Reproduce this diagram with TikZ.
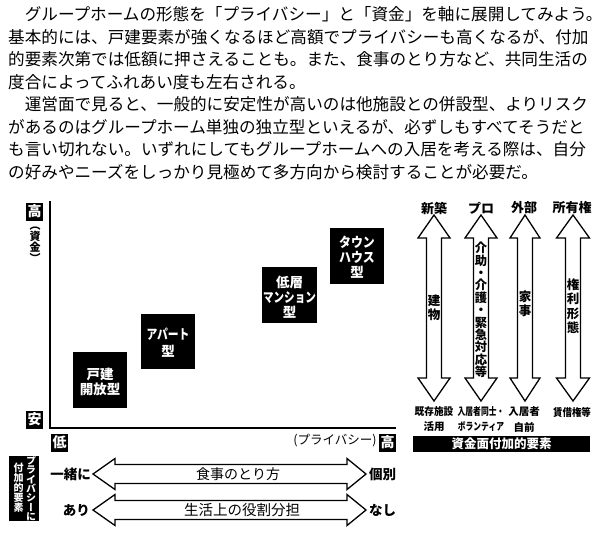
\documentclass[tikz,border=0pt]{standalone}
\usepackage{fontspec}
\usepackage{graphicx}
\setmainfont{Noto Sans CJK JP}
\newfontfamily\jpv[RawFeature=+vert]{Noto Sans CJK JP}
\newcommand\fsz[1]{\fontsize{#1pt}{#1pt}\selectfont}
\newcommand\fsb[2]{\fontsize{#1pt}{#2pt}\selectfont}
\newcommand\harrow[7]{%
 \draw[arr] (#1,#3) -- ({#1+#4},{#3-#7}) -- ({#1+#4},{#3-#6}) -- ({#2-#5},{#3-#6}) -- ({#2-#5},{#3-#7}) -- (#2,#3) -- ({#2-#5},{#3+#7}) -- ({#2-#5},{#3+#6}) -- ({#1+#4},{#3+#6}) -- ({#1+#4},{#3+#7}) -- cycle;}
\newcommand\varrow[6]{%
 \draw[arr] (#1,#2) -- ({#1+#6},{#2+#4}) -- ({#1+#5},{#2+#4}) -- ({#1+#5},{#3-#4}) -- ({#1+#6},{#3-#4}) -- (#1,#3) -- ({#1-#6},{#3-#4}) -- ({#1-#5},{#3-#4}) -- ({#1-#5},{#2+#4}) -- ({#1-#6},{#2+#4}) -- cycle;}
\begin{document}
\begin{tikzpicture}[x=1pt,y=-1pt,
  body/.style={anchor=base west,inner sep=0pt,font=\fsz{16.6}},
  blkbox/.style={fill=black,draw=none},
  wtxt/.style={text=white,font=\bfseries\fsb{13.5}{15},align=center,inner sep=0pt},
  axlab/.style={fill=black,text=white,font=\bfseries\fsz{14},inner sep=0pt,minimum width=17pt,minimum height=18pt},
  arr/.style={draw=black,line width=1.3pt,fill=white,line join=miter},
  hdr/.style={font=\bfseries\fsz{13},inner sep=0pt},
  vtxt/.style={font=\jpv\bfseries\fsb{12.5}{13.6},align=center,inner sep=0pt},
  small/.style={font=\bfseries\fsz{10.5},inner sep=0pt},
  side/.style={font=\bfseries\fsz{13.5},inner sep=0pt},
  mid/.style={font=\fsz{14.5},inner sep=0pt}]
\useasboundingbox (0,0) rectangle (604,533);
% ---------- body text ----------
\node[body] (t1) at (8,20.8) {　グループホームの形態を「プライバシー」と「資金」を軸に展開してみよう。};
\node[body] (t2) at (8,43.3) {基本的には、戸建要素が強くなるほど高額でプライバシーも高くなるが、付加};
\node[body] (t3) at (8,65.8) {的要素次第では低額に押さえることも。また、食事のとり方など、共同生活の};
\node[body] (t4) at (8,88.3) {度合によってふれあい度も左右される。};
\node[body] (t5) at (8,110.8) {　運営面で見ると、一般的に安定性が高いのは他施設との併設型、よりリスク};
\node[body] (t6) at (8,133.3) {があるのはグループホーム単独の独立型といえるが、必ずしもすべてそうだと};
\node[body] (t7) at (8,155.8) {も言い切れない。いずれにしてもグループホームへの入居を考える際は、自分};
\node[body] (t8) at (8,178.3) {の好みやニーズをしっかり見極めて多方向から検討することが必要だ。};
% ---------- chart axes ----------
\coordinate (yt) at (50,201);
\coordinate (org) at (50,428);
\coordinate (xr) at (396,428);
\draw[line width=2.2pt] (yt) -- (org) -- (xr);
\node[axlab] (yhigh) at (34.5,211.5) {高};
\node[vtxt,font=\jpv\bfseries\fsb{11}{10.5}] (ylab) at (35,244.5) {（\\資\\金\\）};
\node[axlab] (ylow) at (34.5,419.5) {安};
\node[axlab] (xlow) at (59.5,442.5) {低};
\node[axlab] (xhigh) at (387.5,442.5) {高};
\node[font=\fsz{12.5},inner sep=0pt] (xlab) at (335,441) {(プライバシー)};
% ---------- chart boxes ----------
\fill[blkbox] (73,352) rectangle (127,408);
\node[wtxt] (b1) at (100,382) {戸建\\開放型};
\fill[blkbox] (141,314) rectangle (195,369);
\node[wtxt,font=\bfseries\fsb{13.5}{17}] (b2) at (168,343) {\scalebox{0.8}[1]{アパート}\\型};
\fill[blkbox] (262,267) rectangle (317,323);
\node[wtxt] (b3) at (289.5,297) {低層\\\scalebox{0.78}[1]{マンション}\\型};
\fill[blkbox] (330,228) rectangle (384,284);
\node[wtxt] (b4) at (357,257) {\scalebox{0.88}[1]{タウン}\\\scalebox{0.88}[1]{ハウス}\\型};
% ---------- right: vertical double arrows ----------
\node[hdr] (h1) at (434,208) {新築};
\node[hdr] (h2) at (481,208) {プロ};
\node[hdr] (h3) at (524,208) {外部};
\node[hdr] (h4) at (572,208) {所有権};
\varrow{434}{215}{401}{23}{7.5}{16}
\varrow{481}{215}{401}{23}{7.5}{16}
\varrow{525}{215}{401}{23}{7.5}{15}
\varrow{573}{215}{401}{23}{7.5}{16.5}
\node[vtxt] (v1) at (434,308) {建\\物};
\node[vtxt,font=\jpv\bfseries\fsb{12.3}{12.4}] (v2) at (481,310) {介\\助\\・\\介\\護\\・\\緊\\急\\対\\応\\等};
\node[vtxt] (v3) at (525,304) {家\\事};
\node[vtxt,font=\jpv\bfseries\fsb{12.5}{14.5}] (v4) at (573,306) {権\\利\\形\\態};
\node[small] (l1a) at (434,412) {\scalebox{0.92}[1]{既存施設}};
\node[small] (l1b) at (434,427) {活用};
\node[small] (l2a) at (481,412) {\scalebox{0.74}[1]{入居者同士・}};
\node[small] (l2b) at (481,427) {\scalebox{0.74}[1]{ボランティア}};
\node[small] (l3a) at (524,412) {入居者};
\node[small] (l3b) at (524,427) {自前};
\node[small] (l4a) at (572,412) {\scalebox{0.9}[1]{賃借権等}};
\fill[blkbox] (413,436) rectangle (590,452);
\node[text=white,font=\bfseries\fsz{12.5},inner sep=0pt] (bar) at (501.5,444) {資金面付加的要素};
% ---------- bottom: horizontal double arrows ----------
\fill[blkbox] (9,456) rectangle (39,521);
\node[font=\jpv\bfseries\fsb{10}{9.4},text=white,align=center,inner sep=0pt] (sl) at (18.5,488) {付\\加\\的\\要\\素};
\node[font=\jpv\bfseries\fsb{10}{9.4},text=white,align=center,inner sep=0pt] (sr) at (31,488.5) {プ\\ラ\\イ\\バ\\シ\\ー\\に};
\harrow{93}{366}{474}{22}{19}{9.5}{15.5}
\harrow{93}{366}{510}{22}{19}{9.5}{15.5}
\node[mid,font=\fsz{14}] (m1) at (238,474) {食事のとり方};
\node[mid] (m2) at (242,510) {生活上の役割分担};
\node[side,anchor=east] (e1) at (91,474) {一緒に};
\node[side,anchor=west] (e2) at (369,474) {個別};
\node[side,anchor=east] (e3) at (90,510) {あり};
\node[side,anchor=west] (e4) at (369,510) {なし};
\end{tikzpicture}
\end{document}
